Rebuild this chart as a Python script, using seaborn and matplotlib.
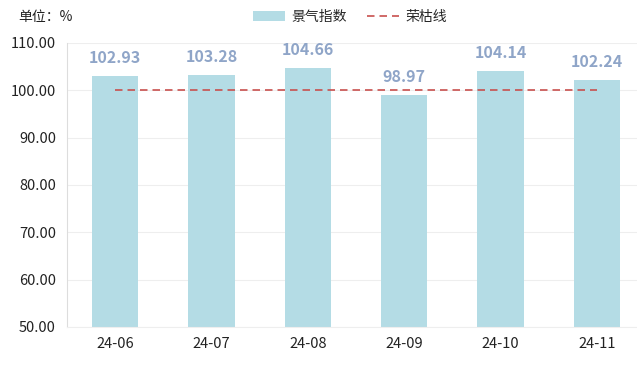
import matplotlib
matplotlib.use("Agg")
import matplotlib.pyplot as plt
import seaborn as sns
import pandas as pd
from matplotlib.patches import Patch
from matplotlib.lines import Line2D

months = ["24-06", "24-07", "24-08", "24-09", "24-10", "24-11"]
index_values = [102.93, 103.28, 104.66, 98.97, 104.14, 102.24]
boom_line = [100, 100, 100, 100, 100, 100]
y_ticks = [50, 60, 70, 80, 90, 100, 110]

BAR_C = "#b4dce5"
LBL_C = "#8fa5c8"
LINE_C = "#c8504e"

sns.set_theme(style="white")
plt.rcParams["font.family"] = ["Noto Sans CJK SC", "DejaVu Sans"]

fig = plt.figure(figsize=(6.37, 3.67), dpi=100)
ax = fig.add_axes([67 / 637, 1 - 327 / 367, (645 - 67) / 637, (327 - 43) / 367])

df = pd.DataFrame({"month": months, "value": index_values, "line": boom_line})
sns.barplot(data=df, x="month", y="value", color=BAR_C, width=0.48,
            saturation=1, ax=ax, zorder=2, edgecolor="none", linewidth=0)
sns.lineplot(data=df, x="month", y="line", color=LINE_C, linewidth=1.2,
             dashes=False, ax=ax, zorder=3)
ax.lines[-1].set_dashes((4.5, 3))

for i, v in enumerate(index_values):
    ax.annotate(f"{v:.2f}", (i, v), xytext=(0, 10), textcoords="offset pixels",
                ha="center", va="bottom", color=LBL_C, fontsize=11.5,
                fontweight="bold")

ax.set_ylim(50, 110)
ax.set_xlim(-0.5, 5.5)
ax.set_yticks(y_ticks)
ax.set_yticklabels([f"{t:.2f}" for t in y_ticks])
ax.set_xlabel("")
ax.set_ylabel("")
ax.yaxis.grid(True, color="#eeeeee", linewidth=0.8, zorder=0)
ax.set_axisbelow(True)
for s in ["top", "right"]:
    ax.spines[s].set_visible(False)
ax.spines["left"].set_color("#dddddd")
ax.spines["bottom"].set_color("#eeeeee")
ax.spines["left"].set_linewidth(0.8)
ax.spines["bottom"].set_linewidth(0.8)
ax.tick_params(axis="both", length=0, labelsize=10.5, colors="#222222")
ax.tick_params(axis="y", pad=8)
ax.tick_params(axis="x", pad=7)

fig.text(18 / 637, 1 - 17 / 367, "单位：%", fontsize=10, color="#222222",
         ha="left", va="center")

handles = [Patch(facecolor=BAR_C, edgecolor="none"),
           Line2D([0], [0], color=LINE_C, linewidth=1.2, dashes=(4.5, 3))]
fig.legend(handles, ["景气指数", "荣枯线"], loc="center",
           bbox_to_anchor=(350 / 637, 1 - 17 / 367), ncol=2, frameon=False,
           fontsize=10, handlelength=2.3, handleheight=0.7,
           handletextpad=0.5, columnspacing=1.4)

fig.savefig("out.png", dpi=100)
